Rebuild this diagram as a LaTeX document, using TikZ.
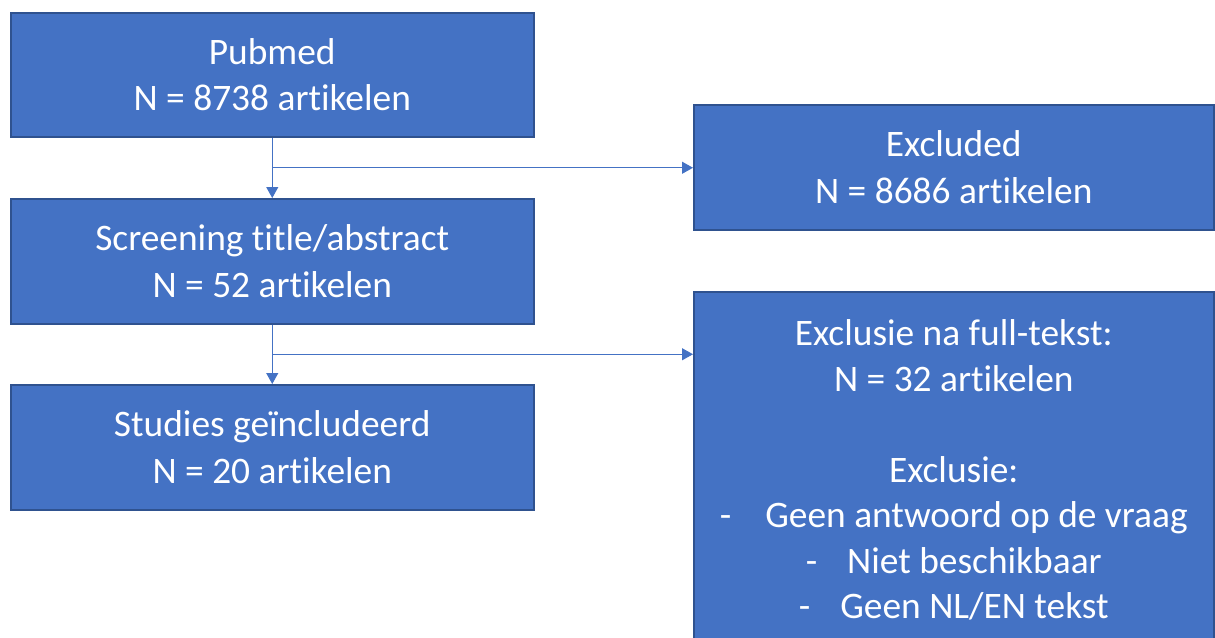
\documentclass[tikz,border=0pt]{standalone}
\usepackage{fontspec}
\setmainfont[Ligatures={NoCommon}]{Carlito}
\usetikzlibrary{arrows.meta,calc}
\definecolor{boxfill}{HTML}{4472C4}
\definecolor{boxline}{HTML}{2F528F}
\begin{document}
\begin{tikzpicture}[x=1pt,y=-1pt,
  box/.style={draw=boxline,line width=1.5pt,fill=boxfill,text=white,
    anchor=north west,inner sep=0pt,align=center,
    font=\fontsize{37.4}{46.8}\selectfont},
  conn/.style={draw=boxfill,line width=1.1pt,-{Triangle[width=12pt,length=11pt]}}]
\useasboundingbox (0,0) rectangle (1215,637);
\begin{scope}
\clip (0,0) rectangle (1215,637);
\node[box,minimum width=523pt,minimum height=124pt] (b1) at (10,12) {Pubmed\\N = 8738 artikelen};
\node[box,minimum width=523pt,minimum height=125pt] (b2) at (10,198) {Screening title/abstract\\N = 52 artikelen};
\node[box,minimum width=523pt,minimum height=125pt] (b3) at (10,384) {Studies geïncludeerd\\N = 20 artikelen};
\node[box,minimum width=520pt,minimum height=125pt] (b4) at (693,104) {Excluded\\N = 8686 artikelen};
\node[box,minimum width=520pt,minimum height=357pt,font=\fontsize{37.4}{45.5}\selectfont] (b5) at (693,291) {Exclusie na full-tekst:\\N = 32 artikelen\\\mbox{}\\Exclusie:\\-\hspace{34pt}Geen antwoord op de vraag\\-\hspace{30pt}Niet beschikbaar\\-\hspace{30pt}Geen NL/EN tekst};
\end{scope}
\coordinate (j1) at ($(b1.south)!0.5!(b2.north)$);
\coordinate (j2) at ($(b2.south)!0.5!(b3.north)$);
\draw[conn] (b1.south) -- (b2.north);
\draw[conn] (j1) -- (j1 -| b4.west);
\draw[conn] (b2.south) -- (b3.north);
\draw[conn] (j2) -- (j2 -| b5.west);
\end{tikzpicture}
\end{document}
